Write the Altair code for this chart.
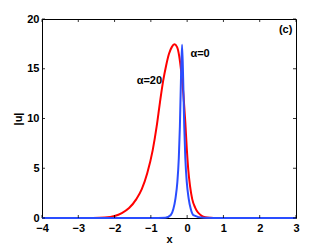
import altair as alt
import pandas as pd

# Red curve (alpha = 20)
red_x = [-4.0, -3.0, -2.6, -2.27, -2.0, -1.8, -1.6, -1.4, -1.25, -1.1, -0.95,
         -0.84, -0.75, -0.66, -0.58, -0.50, -0.42, -0.35, -0.28, -0.22, -0.16,
         -0.10, -0.05, -0.01, 0.03, 0.08, 0.14, 0.22, 0.30, 0.40, 0.5, 0.65, 0.8, 1.0, 3.0]
red_y = [0, 0, 0.01, 0.05, 0.2, 0.5, 1.0, 1.9, 2.9, 4.5, 6.8,
         9.2, 11.6, 13.8, 15.3, 16.5, 17.2, 17.45, 17.2, 16.3, 14.6,
         12.3, 9.6, 7.0, 4.9, 3.2, 1.9, 1.05, 0.55, 0.22, 0.08, 0.02, 0, 0, 0]

# Blue curve (alpha = 0)
blue_x = [-4.0, -1.0, -0.6, -0.45, -0.38, -0.32, -0.27, -0.23, -0.20, -0.17, -0.14,
          -0.11, -0.08, -0.05, -0.01, 0.04, 0.10, 0.17, 0.46, 1.0, 3.0]
blue_y = [0, 0, 0.02, 0.3, 0.9, 2.0, 3.6, 6.0, 9.2, 14.0, 17.4,
          14.0, 9.2, 6.0, 3.6, 2.0, 0.9, 0.3, 0.02, 0, 0]

x_ticks = [-4, -3, -2, -1, 0, 1, 2, 3]
y_ticks = [0, 5, 10, 15, 20]

left_labels = ["α=0"]
left_label_x = [0.09]
left_label_y = [16.5]
right_labels = ["α=20", "(c)"]
right_label_x = [-0.69, 2.9]
right_label_y = [13.8, 18.9]

W, H = 254, 199
FONT = "Liberation Sans"

red_df = pd.DataFrame({"x": red_x, "y": red_y})
blue_df = pd.DataFrame({"x": blue_x, "y": blue_y})
xt_df = pd.DataFrame({"x": x_ticks})
yt_df = pd.DataFrame({"y": y_ticks})
ll_df = pd.DataFrame({"t": left_labels, "x": left_label_x, "y": left_label_y})
rl_df = pd.DataFrame({"t": right_labels, "x": right_label_x, "y": right_label_y})

xscale = alt.Scale(domain=[-4, 3], nice=False)
yscale = alt.Scale(domain=[0, 20], nice=False)

xaxis = alt.Axis(values=x_ticks, ticks=False, domain=False, grid=False,
                 labelOverlap=False, labelFlush=False,
                 labelFont=FONT, labelFontWeight="bold", labelFontSize=11,
                 labelColor="black", labelPadding=4, title="x",
                 titleFont=FONT, titleFontWeight="bold", titleFontSize=11,
                 titleColor="black", titlePadding=0)
yaxis = alt.Axis(values=y_ticks, ticks=False, domain=False, grid=False,
                 labelOverlap=False, labelFlush=False,
                 labelFont=FONT, labelFontWeight="bold", labelFontSize=11,
                 labelColor="black", labelPadding=3, title="|u|",
                 titleFont=FONT, titleFontWeight="bold", titleFontSize=11,
                 titleColor="black", titlePadding=3)

X = alt.X("x:Q", scale=xscale, axis=xaxis, title="x")
Y = alt.Y("y:Q", scale=yscale, axis=yaxis, title="|u|")

red = alt.Chart(red_df).mark_line(color="#ff0000", strokeWidth=2, interpolate="monotone").encode(
    x=X, y=Y)
blue = alt.Chart(blue_df).mark_line(color="#2a4dff", strokeWidth=2, interpolate="monotone").encode(
    x=X, y=Y)

bt = alt.Chart(xt_df).mark_rule(color="black", strokeWidth=0.8).encode(
    x=X, y=alt.value(H), y2=alt.value(H - 3))
tt = alt.Chart(xt_df).mark_rule(color="black", strokeWidth=0.8).encode(
    x=X, y=alt.value(0), y2=alt.value(3))
lt = alt.Chart(yt_df).mark_rule(color="black", strokeWidth=0.8).encode(
    y=Y, x=alt.value(0), x2=alt.value(3))
rt = alt.Chart(yt_df).mark_rule(color="black", strokeWidth=0.8).encode(
    y=Y, x=alt.value(W - 3), x2=alt.value(W))

ltext = alt.Chart(ll_df).mark_text(font=FONT, fontWeight="bold", fontSize=11, align="left",
                                   baseline="middle", color="black").encode(
    x=X, y=Y, text="t:N")
rtext = alt.Chart(rl_df).mark_text(font=FONT, fontWeight="bold", fontSize=11, align="right",
                                   baseline="middle", color="black").encode(
    x=X, y=Y, text="t:N")

chart = alt.layer(red, blue, bt, tt, lt, rt, ltext, rtext).properties(
    width=W, height=H,
    autosize=alt.AutoSizeParams(type="none"),
    padding={"left": 34, "top": 11, "right": 10, "bottom": 30},
    background="white",
).configure_view(stroke="black", strokeWidth=1).configure_axis(labelOverlap=False)

chart.save("out.html", embed_options={"renderer": "svg", "actions": False})
